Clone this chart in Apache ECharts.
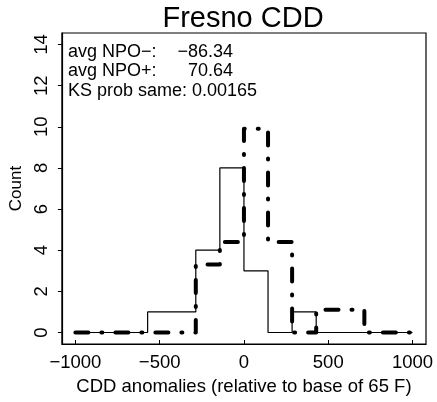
<!DOCTYPE html>
<html>
<head>
<meta charset="utf-8">
<script src="https://cdn.jsdelivr.net/npm/echarts@6/dist/echarts.min.js"></script>
<style>html,body{margin:0;padding:0;background:#fff}#c{width:437px;height:402px}</style>
</head>
<body>
<div id="c"></div>
<script>
// Bin edges (CDD anomaly)
var binEdges = [-1000, -857.1, -714.3, -571.4, -428.6, -285.7, -142.9, 0, 142.9, 285.7, 428.6, 571.4, 714.3, 857.1, 1000];
// Counts per bin, NPO- (solid thin line)
var countsNeg = [0, 0, 0, 1, 1, 4, 8, 3, 0, 1, 0, 0, 0, 0];
// Counts per bin, NPO+ (thick dashed line, scaled)
var countsPos = [0, 0, 0, 0, 0, 3.3, 4.4, 9.9, 4.4, 0, 1.1, 1.1, 0, 0];
var xTicks = [-1000, -500, 0, 500, 1000];
var yTicks = [0, 2, 4, 6, 8, 10, 12, 14];
var titleText = 'Fresno CDD';
var statLines = [
  ["avg NPO\u2212:", "\u221286.34"],
  ["avg NPO+:", "70.64"],
  ["KS prob same: 0.00165", ""]
];

function stepData(edges, counts) {
  var d = [];
  for (var i = 0; i < counts.length; i++) d.push([edges[i], counts[i]]);
  d.push([edges[edges.length - 1], counts[counts.length - 1]]);
  return d;
}
function minus(v) { return String(v).replace('-', '\u2212'); }

var FONT = 'Liberation Sans';
var chart = echarts.init(document.getElementById('c'), null, {renderer: 'canvas'});

var graphics = [{type: 'text', x: 243, y: 4,
  style: {text: titleText, font: '29px "' + FONT + '"', fill: '#000', textAlign: 'center', textVerticalAlign: 'top'}}];
statLines.forEach(function (ln, i) {
  graphics.push({type: 'text', x: 68, y: 52 + i * 19.5,
    style: {text: ln[0], font: '18px "' + FONT + '"', fill: '#000', textAlign: 'left', textVerticalAlign: 'middle'}});
  if (ln[1]) graphics.push({type: 'text', x: 233, y: 52 + i * 19.5,
    style: {text: ln[1], font: '18px "' + FONT + '"', fill: '#000', textAlign: 'right', textVerticalAlign: 'middle'}});
});

chart.setOption({
  animation: false,
  backgroundColor: '#fff',
  grid: {left: 60, right: 11, top: 33, bottom: 58, show: true, borderColor: '#000', borderWidth: 1.2, backgroundColor: 'transparent'},
  xAxis: {
    type: 'value', min: -1080, max: 1080,
    name: 'CDD anomalies (relative to base of 65 F)', nameLocation: 'middle', nameGap: 33,
    nameTextStyle: {fontFamily: FONT, fontSize: 18.5, color: '#000'},
    axisLine: {show: true, onZero: false, lineStyle: {color: '#000', width: 1.2}},
    axisTick: {show: true, inside: true, length: 4, customValues: xTicks, lineStyle: {color: '#000'}},
    axisLabel: {customValues: xTicks, margin: 9, fontFamily: FONT, fontSize: 18.5, color: '#000', formatter: minus},
    splitLine: {show: false}
  },
  yAxis: {
    type: 'value', min: -0.56, max: 14.56,
    name: 'Count', nameLocation: 'middle', nameGap: 36, nameRotate: 90,
    nameTextStyle: {fontFamily: FONT, fontSize: 17, color: '#000'},
    axisLine: {show: true, onZero: false, lineStyle: {color: '#000', width: 1.2}},
    axisTick: {show: true, length: 4, customValues: yTicks, lineStyle: {color: '#000'}},
    axisLabel: {customValues: yTicks, rotate: 90, margin: 10, fontFamily: FONT, fontSize: 18.5, color: '#000'},
    splitLine: {show: false}
  },
  graphic: graphics,
  series: [
    {type: 'line', step: 'end', data: stepData(binEdges, countsNeg), symbol: 'none',
      lineStyle: {color: '#000', width: 1.2}, z: 2},
    {type: 'line', step: 'end', data: stepData(binEdges, countsPos), symbol: 'none',
      lineStyle: {color: '#000', width: 4, type: [13, 13, 1, 13], cap: 'round', join: 'round'}, z: 3}
  ]
});
</script>
</body>
</html>
